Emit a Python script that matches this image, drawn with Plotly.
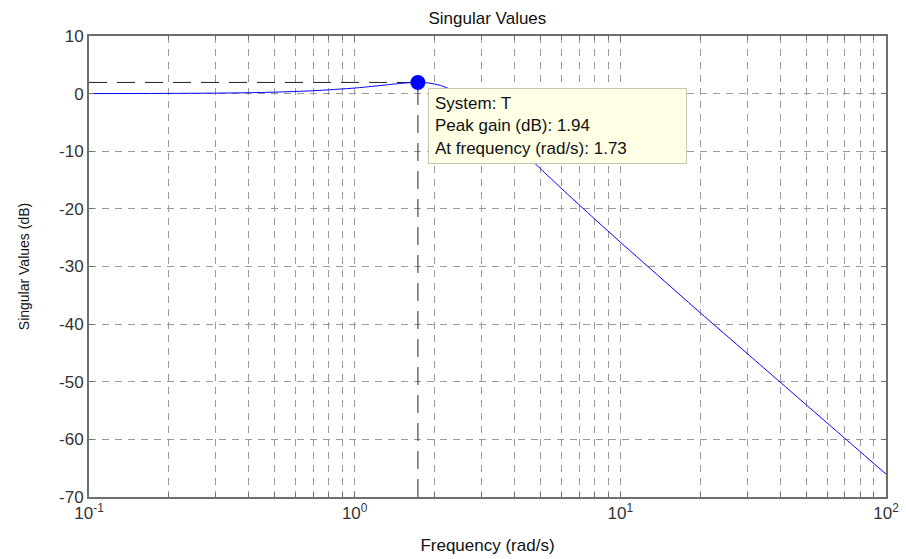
import numpy as np
import plotly.graph_objects as go

# Singular value response of the closed-loop system T
freq = [0.1, 0.2, 0.3, 0.4, 0.5, 0.7, 1.0, 1.2, 1.4, 1.6, 1.73, 1.9, 2.1, 2.3,
        2.6, 3.0, 3.5, 4.0, 5.0, 6.0, 8.0, 10.0, 15.0, 20.0, 30.0, 50.0, 70.0, 100.0]
gain_db = [0.01, 0.04, 0.09, 0.16, 0.26, 0.50, 0.97, 1.32, 1.65, 1.89, 1.94, 1.84, 1.43, 0.71,
           -0.81, -3.18, -6.09, -8.69, -13.01, -16.45, -21.75, -25.77, -32.95, -38.04,
           -45.08, -53.97, -59.82, -66.02]

# Peak data tip
peak_freq = 1.73
peak_gain = 1.94
system_name = "T"

x_tick_vals = [0.1, 1, 10, 100]
x_tick_text = ["10<sup>-1</sup>", "10<sup>0</sup>", "10<sup>1</sup>", "10<sup>2</sup>"]
x_minor_vals = [m * d for d in (0.1, 1, 10) for m in range(2, 10)]
y_tick_vals = [10, 0, -10, -20, -30, -40, -50, -60, -70]
y_tick_text = ["10", "0", "-10", "-20", "-30", "-40", "-50", "-60", "-70"]

FONT = "Liberation Sans, Arial, sans-serif"
GRID = "#9a9a9a"
AXIS = "#6e6e6e"

fig = go.Figure()

# Dashed guides from the peak to the axes
fig.add_trace(go.Scatter(
    x=[freq[0], peak_freq], y=[peak_gain, peak_gain], mode="lines",
    line=dict(color="#222222", width=1, dash="18px,10px"),
    hoverinfo="skip", showlegend=False))
fig.add_trace(go.Scatter(
    x=[peak_freq, peak_freq], y=[y_tick_vals[-1], peak_gain], mode="lines",
    line=dict(color="#222222", width=1, dash="18px,10px"),
    hoverinfo="skip", showlegend=False))

# Response curve
fig.add_trace(go.Scatter(
    x=freq, y=gain_db, mode="lines",
    line=dict(color="#0000ff", width=1, shape="spline", smoothing=0.6),
    showlegend=False))

# Peak marker
fig.add_trace(go.Scatter(
    x=[peak_freq], y=[peak_gain], mode="markers",
    marker=dict(color="#0000ff", size=15, line=dict(width=0)),
    showlegend=False))

fig.add_annotation(
    xref="paper", yref="paper", x=0.4253, y=0.887,
    xanchor="left", yanchor="top",
    text=(f"System: {system_name}<br>Peak gain (dB): {peak_gain:.2f}"
          f"<br>At frequency (rad/s): {peak_freq:.2f}"),
    align="left", showarrow=False,
    font=dict(family=FONT, size=17, color="#111111"),
    bgcolor="#ffffe6", bordercolor="#c8c8b0", borderwidth=1, borderpad=6,
    width=245, height=62, valign="middle")

fig.update_layout(
    width=906, height=559,
    margin=dict(l=89, r=20, t=36, b=62, autoexpand=False),
    paper_bgcolor="white", plot_bgcolor="white",
    font=dict(family=FONT, color="#333333"),
    title=dict(text="Singular Values", x=0.538, xanchor="center",
               y=1 - 18 / 559, yanchor="middle",
               font=dict(family=FONT, size=17, color="#111111")),
)

fig.update_xaxes(
    type="log", range=[-1, 2], automargin=False,
    tickvals=x_tick_vals, ticktext=x_tick_text,
    tickfont=dict(size=17, color="#333333"),
    ticks="inside", ticklen=5, tickcolor=AXIS,
    showline=True, linecolor=AXIS, linewidth=2, mirror="ticks",
    showgrid=True, gridcolor=GRID, gridwidth=1, griddash="7px,6px",
    minor=dict(tickvals=x_minor_vals, ticks="inside", ticklen=4, tickcolor=AXIS,
               showgrid=True, gridcolor=GRID, gridwidth=1, griddash="7px,6px"),
    zeroline=False,
    title=dict(text="Frequency (rad/s)", standoff=17,
               font=dict(family=FONT, size=17, color="#111111")),
)

fig.update_yaxes(
    range=[-70, 10], tickvals=y_tick_vals, ticktext=y_tick_text, automargin=False,
    tickfont=dict(size=17, color="#333333"),
    ticks="inside", ticklen=5, tickcolor=AXIS,
    showline=True, linecolor=AXIS, linewidth=2, mirror="ticks",
    showgrid=True, gridcolor=GRID, gridwidth=1, griddash="7px,6px",
    zeroline=False,
    title=dict(text="Singular Values (dB)", standoff=26,
               font=dict(family=FONT, size=14, color="#111111")),
)

fig.write_html("out.html")
